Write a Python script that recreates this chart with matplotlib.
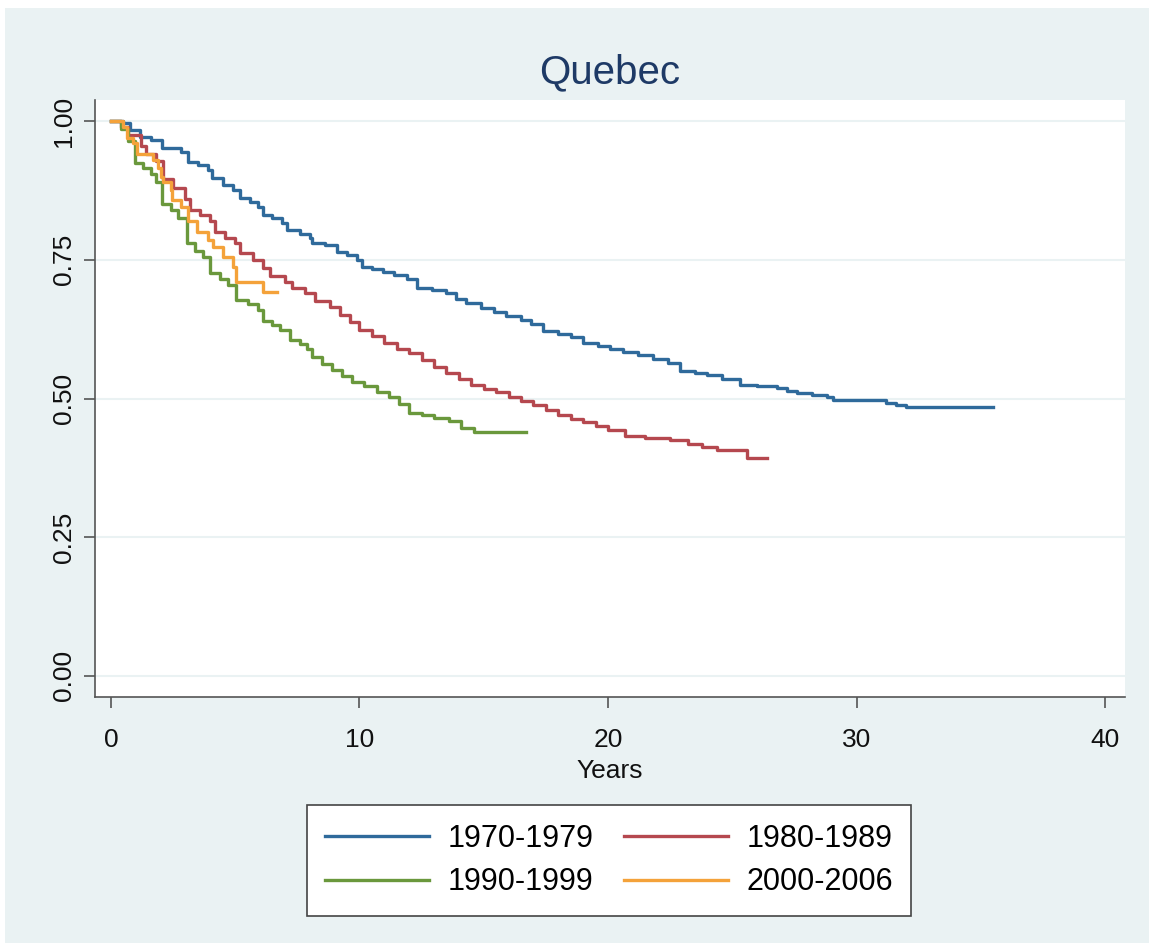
import matplotlib.pyplot as plt
from matplotlib.patches import Rectangle

plt.rcParams['font.family'] = ['Liberation Sans', 'DejaVu Sans']

# Kaplan-Meier survival estimates (years, survival)
t_7079 = [0, 0.5, 0.76, 1.17, 1.6, 2.05, 2.8, 3.1, 3.5, 3.9, 4.05, 4.5, 4.9, 5.2, 5.6,
          5.9, 6.1, 6.5, 6.9, 7.1, 7.6, 8.0, 8.1, 8.6, 9.1, 9.5, 9.9, 10.1, 10.5, 10.95,
          11.4, 11.9, 12.3, 12.9, 13.5, 13.9, 14.3, 14.9, 15.4, 15.9, 16.5, 16.9, 17.4,
          18.0, 18.5, 19.0, 19.6, 20.1, 20.6, 21.2, 21.8, 22.4, 22.9, 23.5, 24.0, 24.6,
          25.3, 26.0, 26.8, 27.2, 27.6, 28.2, 28.8, 29.05, 31.2, 31.6, 32.0, 35.5]
s_7079 = [1.0, 0.996, 0.984, 0.971, 0.966, 0.951, 0.945, 0.926, 0.92, 0.912, 0.897,
          0.885, 0.876, 0.861, 0.855, 0.845, 0.83, 0.826, 0.816, 0.804, 0.797, 0.789,
          0.78, 0.776, 0.764, 0.758, 0.75, 0.737, 0.733, 0.728, 0.722, 0.715, 0.70,
          0.695, 0.69, 0.68, 0.672, 0.664, 0.656, 0.648, 0.641, 0.634, 0.622, 0.616,
          0.61, 0.60, 0.594, 0.59, 0.584, 0.578, 0.571, 0.564, 0.55, 0.546, 0.542,
          0.535, 0.524, 0.522, 0.519, 0.514, 0.51, 0.506, 0.503, 0.497, 0.492, 0.489,
          0.485, 0.485]

t_8089 = [0, 0.4, 0.7, 1.2, 1.4, 1.8, 2.1, 2.5, 3.0, 3.2, 3.6, 4.0, 4.2, 4.6, 5.0, 5.2,
          5.7, 6.1, 6.4, 7.0, 7.3, 7.8, 8.2, 8.8, 9.2, 9.6, 10.0, 10.5, 11.0, 11.5, 12.0,
          12.5, 13.0, 13.5, 14.0, 14.5, 15.0, 15.5, 16.0, 16.5, 17.0, 17.5, 18.0, 18.5,
          19.0, 19.5, 20.0, 20.7, 21.5, 22.5, 23.2, 23.8, 24.4, 25.6, 26.4]
s_8089 = [1.0, 0.99, 0.975, 0.955, 0.94, 0.928, 0.895, 0.88, 0.86, 0.84, 0.83, 0.82,
          0.80, 0.79, 0.78, 0.762, 0.75, 0.735, 0.72, 0.71, 0.70, 0.69, 0.675, 0.665,
          0.65, 0.638, 0.624, 0.612, 0.60, 0.59, 0.582, 0.57, 0.557, 0.546, 0.536, 0.525,
          0.518, 0.512, 0.503, 0.495, 0.488, 0.48, 0.47, 0.463, 0.457, 0.45, 0.443,
          0.432, 0.428, 0.425, 0.418, 0.413, 0.407, 0.392, 0.392]

t_9099 = [0, 0.4, 0.7, 0.97, 1.3, 1.6, 1.8, 2.05, 2.4, 2.7, 3.05, 3.4, 3.7, 4.0, 4.4,
          4.7, 5.05, 5.5, 5.9, 6.1, 6.5, 6.8, 7.2, 7.6, 7.9, 8.1, 8.5, 8.9, 9.3, 9.7,
          10.2, 10.7, 11.2, 11.6, 12.0, 12.5, 13.0, 13.6, 14.1, 14.6, 16.7]
s_9099 = [1.0, 0.985, 0.965, 0.924, 0.915, 0.905, 0.89, 0.85, 0.84, 0.825, 0.78, 0.765,
          0.755, 0.726, 0.715, 0.705, 0.677, 0.67, 0.66, 0.64, 0.632, 0.624, 0.605,
          0.598, 0.59, 0.575, 0.562, 0.551, 0.54, 0.53, 0.522, 0.512, 0.503, 0.49,
          0.474, 0.47, 0.465, 0.46, 0.447, 0.44, 0.44]

t_0006 = [0, 0.5, 0.64, 0.9, 1.05, 1.7, 1.9, 2.0, 2.1, 2.4, 2.45, 2.8, 3.1, 3.45, 3.9,
          4.1, 4.5, 4.9, 5.05, 6.1, 6.7]
s_0006 = [1.0, 0.99, 0.97, 0.96, 0.94, 0.93, 0.915, 0.90, 0.89, 0.876, 0.858, 0.845,
          0.82, 0.80, 0.786, 0.773, 0.755, 0.737, 0.71, 0.692, 0.692]

labels = ['1970-1979', '1980-1989', '1990-1999', '2000-2006']
colors = ['#2f6a9b', '#b5484f', '#6a983c', '#f4a23a']

fig = plt.figure(figsize=(11.49, 9.49), dpi=100, facecolor='white')
bg = Rectangle((5 / 1149, 0.006), 1, 1 - 8 / 949 - 0.006, transform=fig.transFigure,
               facecolor='#eaf2f3', edgecolor='none', zorder=-10)
fig.patches.append(bg)

ax = fig.add_axes([95 / 1149, 1 - 697 / 949, 1030 / 1149, 597 / 949])
ax.set_zorder(1)
ax.set_facecolor('white')

series = [(t_7079, s_7079), (t_8089, s_8089), (t_9099, s_9099), (t_0006, s_0006)]
lines = []
for (t, s), lab, col in zip(series, labels, colors):
    ln, = ax.step(t, s, where='post', color=col, lw=2.4, label=lab)
    lines.append(ln)

ax.set_xlim(-0.64, 40.8)
ax.set_ylim(-0.038, 1.038)
ax.set_xticks([0, 10, 20, 30, 40])
ax.set_yticks([0, 0.25, 0.5, 0.75, 1.0])
ax.set_yticklabels(['0.00', '0.25', '0.50', '0.75', '1.00'], rotation=90, va='center')
ax.grid(axis='y', color='#eaf2f3', lw=1.5)
ax.set_axisbelow(True)
for side in ['top', 'right']:
    ax.spines[side].set_visible(False)
for side in ['left', 'bottom']:
    ax.spines[side].set_color('#555555')
    ax.spines[side].set_linewidth(1.2)
ax.tick_params(axis='both', length=8, width=1.2, color='#555555', labelsize=19,
               labelcolor='#111111', direction='out')
ax.tick_params(axis='x', pad=14)
ax.tick_params(axis='y', pad=6)

ax.set_xlabel('Years', fontsize=19, color='#111111', labelpad=5)
ax.set_title('Quebec', fontsize=29, color='#1e3a66', pad=12)

# row-major order like the reference: 1970 | 1980 / 1990 | 2000
order = [0, 2, 1, 3]
leg = fig.legend([lines[i] for i in order], [labels[i] for i in order],
                 loc='upper center', bbox_to_anchor=(609 / 1149, 1 - 790 / 949),
                 ncol=2, fontsize=22, frameon=True, fancybox=False, framealpha=1,
                 handlelength=3.4, handletextpad=0.6, columnspacing=1.0,
                 labelspacing=0.45, borderpad=0.6)
leg.get_frame().set_edgecolor('#444444')
leg.get_frame().set_facecolor('white')
leg.get_frame().set_linewidth(1.2)

fig.savefig('out.png', dpi=100, facecolor=fig.get_facecolor())
